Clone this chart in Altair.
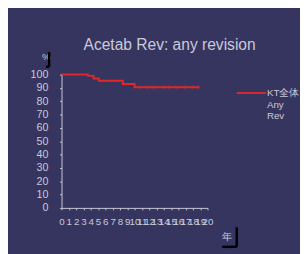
import altair as alt
import pandas as pd

years = [0, 3.6, 4.4, 5.1, 8.4, 10.0, 18.9]
survival = [100, 99, 97, 95.4, 92.9, 90.5, 90.5]
series = ["KT全体 Any Rev"] * len(years)
censor_years = [10.7, 11.7, 12.7, 14.0, 14.7, 15.7, 16.9, 18.0, 18.7]
censor_pct = [90.5] * len(censor_years)
x_ticks = list(range(0, 21))
y_ticks = list(range(0, 101, 10))

df = pd.DataFrame({"year": years, "pct": survival, "series": series})
cdf = pd.DataFrame({"year": censor_years, "pct": censor_pct})

BG = "#35355f"
TXT = "#c9c9d9"
RED = "#e02828"
FONT = "Liberation Sans"

x_enc = alt.X("year:Q", scale=alt.Scale(domain=[0, 20], nice=False),
              axis=alt.Axis(values=x_ticks, title="年", titleAngle=0, titleX=170, titleY=29,
                            titleColor=TXT, titleFontSize=10, titleFontWeight="normal",
                            titleAlign="center", titleBaseline="middle",
                            labelOverlap=False, labelFontSize=10, labelColor=TXT,
                            labelPadding=7, domainColor=TXT, tickColor=TXT, tickSize=2,
                            grid=False, labelFlush=False))
y_enc = alt.Y("pct:Q", scale=alt.Scale(domain=[0, 100], nice=False),
              axis=alt.Axis(values=y_ticks, title="%", titleAngle=0, titleX=-16, titleY=-18,
                            titleColor=TXT, titleFontSize=10, titleFontWeight="normal",
                            titleAlign="center", titleBaseline="middle",
                            labelFontSize=11, labelColor=TXT, labelPadding=12,
                            domainColor=TXT, tickColor=TXT, tickSize=2, grid=False))

line = alt.Chart(df).mark_line(interpolate="step-after", strokeWidth=2).encode(
    x=x_enc, y=y_enc,
    color=alt.Color("series:N", scale=alt.Scale(range=[RED]),
                    legend=alt.Legend(title=None, orient="none", legendX=179, legendY=3,
                                      symbolType="stroke", symbolSize=900, symbolStrokeWidth=2,
                                      labelExpr="['KT全体', 'Any', 'Rev']",
                                      labelBaseline="middle", labelFontSize=10, labelColor=TXT,
                                      labelOffset=0, labelLimit=200)),
)

censor = alt.Chart(cdf).mark_tick(color=RED, orient="vertical", size=4, thickness=1).encode(
    x=x_enc, y=y_enc
)

bracket = alt.Chart(pd.DataFrame({"k": [0]})).mark_rule(color="#000000", strokeWidth=2.5)
b1 = bracket.encode(x=alt.value(-12.7), y=alt.value(-23), y2=alt.value(-8))
b2 = bracket.encode(x=alt.value(-16), x2=alt.value(-12.7), y=alt.value(-8))
b3 = bracket.encode(x=alt.value(180), y=alt.value(157), y2=alt.value(177))
b4 = bracket.encode(x=alt.value(165), x2=alt.value(180), y=alt.value(177))

chart = alt.layer(line, censor, b1, b2, b3, b4).properties(
    width=150, height=137,
    padding={"left": 55, "top": 65, "right": 95, "bottom": 44},
    autosize=alt.AutoSizeParams(type="none"),
    background=BG,
    title=alt.TitleParams("Acetab Rev: any revision", fontSize=16, fontWeight="normal",
                          color=TXT, font=FONT, dx=36, dy=22, offset=20, anchor="middle"),
).configure(font=FONT).configure_view(stroke=None)

chart.save("out.html", embed_options={"renderer": "svg", "actions": False})
